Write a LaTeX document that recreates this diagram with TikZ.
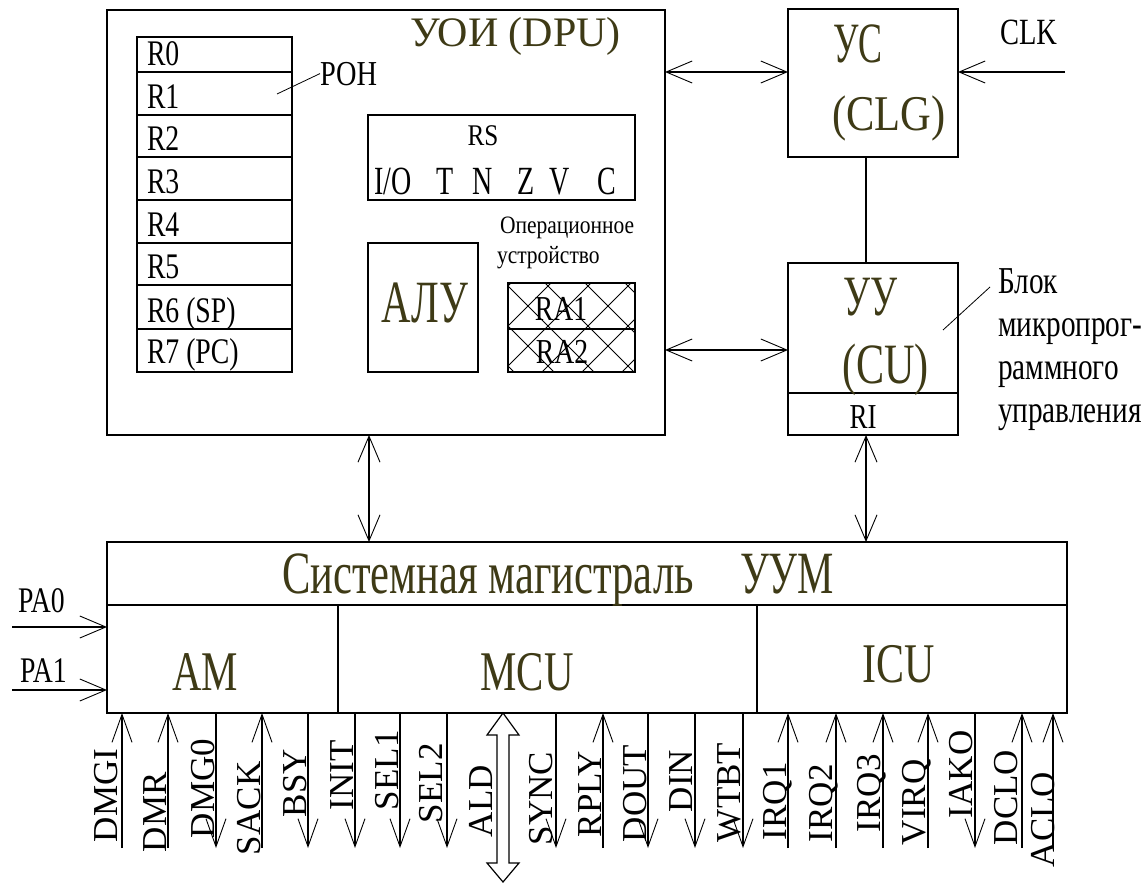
\documentclass[tikz,border=0pt]{standalone}
\usepackage{fontspec}
\setmainfont{Liberation Serif}
\usetikzlibrary{arrows.meta}
\definecolor{olv}{RGB}{62,58,22}
\newcommand{\fs}[3]{{\fontsize{#1}{#1}\selectfont\addfontfeature{FakeStretch=#2}#3}}
\begin{document}
\begin{tikzpicture}[x=1pt,y=-1pt,line width=1.4pt,
  every node/.style={inner sep=0pt,outer sep=0pt},
  box/.style={draw,line width=1.4pt,anchor=north west},
  lbl/.style={anchor=base west},
  clbl/.style={anchor=base},
  thinline/.style={line width=0.8pt},
  tipb/.tip={Straight Barb[length=26pt,width=22pt,line width=0.9pt]},
  arr/.style={-tipb},
  dbl/.style={tipb-tipb},
  sigu/.style={-{Straight Barb[length=28pt,width=20pt,line width=0.9pt]}},
  sigd/.style={{Straight Barb[length=28pt,width=20pt,line width=0.9pt]}-},
  vlab/.style={rotate=90,anchor=base west,font=\fontsize{35}{35}\selectfont}
]
\fill[white] (0,0) rectangle (1148,883);
\useasboundingbox (0,0) rectangle (1148,883);

% ---------------- DPU ----------------
\node[box,minimum width=558pt,minimum height=425pt] (dpu) at (107,10) {};
\node[lbl,text=olv] (dputitle) at (410,47) {\fs{42}{1.0}{УОИ (DPU)}};

% registers
\node[box,minimum width=155pt,minimum height=35pt] (r0) at (137,37) {};
\node[box,minimum width=155pt,minimum height=43pt] (r1) at (137,72) {};
\node[box,minimum width=155pt,minimum height=42pt] (r2) at (137,115) {};
\node[box,minimum width=155pt,minimum height=43pt] (r3) at (137,157) {};
\node[box,minimum width=155pt,minimum height=43pt] (r4) at (137,200) {};
\node[box,minimum width=155pt,minimum height=42pt] (r5) at (137,243) {};
\node[box,minimum width=155pt,minimum height=44pt] (r6) at (137,285) {};
\node[box,minimum width=155pt,minimum height=43pt] (r7) at (137,329) {};
\node[lbl] (t0) at (147,66) {\fs{36}{0.77}{R0}};
\node[lbl] (t1) at (147,108) {\fs{36}{0.77}{R1}};
\node[lbl] (t2) at (147,150) {\fs{36}{0.77}{R2}};
\node[lbl] (t3) at (147,193) {\fs{36}{0.77}{R3}};
\node[lbl] (t4) at (147,236) {\fs{36}{0.77}{R4}};
\node[lbl] (t5) at (147,278) {\fs{36}{0.77}{R5}};
\node[lbl] (t6) at (147,322) {\fs{36}{0.77}{R6 (SP)}};
\node[lbl] (t7) at (147,363) {\fs{36}{0.77}{R7 (PC)}};
\node[lbl] (ron) at (320,85) {\fs{35}{0.81}{РОН}};
\coordinate (ronp) at (277,94);
\draw[thinline] (ronp) -- (ron.west);

% RS
\node[box,minimum width=267pt,minimum height=85pt] (rs) at (368,115) {};
\node[clbl] (rst) at (483,145) {\fs{30}{0.84}{RS}};
\foreach \n/\cx/\t in {f1/393/{I/O},f2/445/T,f3/483/N,f4/526/Z,f5/560/V,f6/607/C}
  \node[clbl] (\n) at (\cx,194) {\fs{40}{0.7}{\t}};

% operational unit label
\node[lbl] (op1) at (500,233) {\fs{25}{0.86}{Операционное}};
\node[lbl] (op2) at (497,263) {\fs{25}{0.86}{устройство}};

% ALU
\node[box,minimum width=110pt,minimum height=129pt] (alu) at (368,243) {};
\node[clbl,text=olv] (alut) at (425,322) {\fs{60}{0.68}{АЛУ}};

% RA1 / RA2 hatched
\begin{scope}
  \clip (508,283) rectangle (635,372);
  \foreach \k in {-5,...,5} {
    \draw[thinline] (505+40*\k,283) -- (594+40*\k,372);
    \draw[thinline] (551+40*\k,283) -- (462+40*\k,372);
  }
\end{scope}
\node[box,minimum width=127pt,minimum height=46pt] (ra1) at (508,283) {};
\node[box,minimum width=127pt,minimum height=43pt] (ra2) at (508,329) {};
\node[clbl] (ra1t) at (561,320) {\fs{35}{0.79}{RA1}};
\node[clbl] (ra2t) at (562,363) {\fs{35}{0.79}{RA2}};

% ---------------- CLG ----------------
\node[box,minimum width=170pt,minimum height=148pt] (us) at (788,9) {};
\node[lbl,text=olv] (ust) at (833,63) {\fs{57}{0.63}{УС}};
\node[lbl,text=olv] (usc) at (832,130) {\fs{50}{0.85}{(CLG)}};
\node[lbl] (clkt) at (1000,45) {\fs{37}{0.77}{CLK}};

% ---------------- CU ----------------
\node[box,minimum width=170pt,minimum height=130pt] (uu) at (788,263) {};
\node[box,minimum width=170pt,minimum height=42pt] (ri) at (788,393) {};
\node[lbl,text=olv] (uut) at (843,315) {\fs{57}{0.67}{УУ}};
\node[lbl,text=olv] (uuc) at (842,383) {\fs{57}{0.74}{(CU)}};
\node[clbl] (rit) at (863,428) {\fs{35}{0.77}{RI}};
\node[lbl] (bl1) at (998,293) {\fs{38}{0.77}{Блок}};
\node[lbl] (bl2) at (998,336) {\fs{38}{0.77}{микропрог-}};
\node[lbl] (bl3) at (998,379) {\fs{38}{0.77}{раммного}};
\node[lbl] (bl4) at (998,422) {\fs{38}{0.77}{управления}};
\coordinate (blp) at (943,330);
\coordinate (blq) at (990,287);
\draw[thinline] (blp) -- (blq);

% ---------------- Bus ----------------
\node[box,minimum width=960pt,minimum height=63pt] (bus) at (107,542) {};
\node[box,minimum width=231pt,minimum height=108pt] (am) at (107,605) {};
\node[box,minimum width=419pt,minimum height=108pt] (mcu) at (338,605) {};
\node[box,minimum width=310pt,minimum height=108pt] (icu) at (757,605) {};
\node[lbl,text=olv] (bust) at (282,593) {\fs{60}{0.71}{Системная магистраль}};
\node[lbl,text=olv] (uum) at (740,593) {\fs{60}{0.68}{УУМ}};
\node[clbl,text=olv] (amt) at (205,690) {\fs{56}{0.73}{AM}};
\node[clbl,text=olv] (mcut) at (527,690) {\fs{56}{0.73}{MCU}};
\node[clbl,text=olv] (icut) at (899,682) {\fs{56}{0.75}{ICU}};
\node[lbl] (pa0) at (18,612) {\fs{36}{0.77}{PA0}};
\node[lbl] (pa1) at (20,682) {\fs{36}{0.77}{PA1}};

% ---------------- connectors ----------------
\coordinate (a1) at (665,72);
\draw[dbl] (a1) -- (a1 -| us.west);
\coordinate (a2) at (665,350);
\draw[dbl] (a2) -- (a2 -| uu.west);
\coordinate (clk) at (1065,72);
\draw[arr] (clk) -- (clk -| us.east);
\coordinate (c1) at (866,157);
\draw (c1) -- (c1 |- uu.north);
\coordinate (v1) at (369,435);
\draw[dbl] (v1) -- (v1 |- bus.north);
\coordinate (v2) at (866,435);
\draw[dbl] (v2) -- (v2 |- bus.north);
\coordinate (p0) at (12,627);
\draw[arr] (p0) -- (p0 -| am.west);
\coordinate (p1) at (12,690);
\draw[arr] (p1) -- (p1 -| am.west);

% ---------------- signals ----------------
\foreach \i/\x/\d/\lab/\lx/\ly in {
  1/122/u/DMGI/117/842, 2/168/u/DMR/166/852, 3/216/d/DMG0/214/838,
  4/262/u/SACK/260/855, 5/308/d/BSY/306/817, 6/355/d/INIT/353/810,
  7/400/d/SEL1/398/810, 8/447/d/SEL2/442/823, 10/556/d/SYNC/552/845,
  11/603/u/RPLY/601/837, 12/648/d/DOUT/646/842, 13/695/d/DIN/692/812,
  14/743/d/WTBT/740/842, 15/788/u/IRQ1/786/840, 16/836/u/IRQ2/832/842,
  17/883/u/IRQ3/880/832, 18/928/u/VIRQ/925/845, 19/975/d/IAKO/972/818,
  20/1022/u/DCLO/1017/845, 21/1053/u/ACLO/1054/867} {
  \coordinate (st\i) at (\x,713);
  \coordinate (sb\i) at (\x,848);
  \draw[sig\d,line width=1.2pt] (sb\i) -- (st\i);
  \node[vlab] (sl\i) at (\lx,\ly) {\lab};
}
% ALD hollow double arrow
\coordinate (aldt) at (503,713);
\draw[line width=1.2pt,fill=white] (aldt) -- (519,735) -- (509,735) -- (509,863) -- (519,863)
  -- (503,882) -- (487,863) -- (497,863) -- (497,735) -- (487,735) -- cycle;
\node[vlab] (sl9) at (492,837) {ALD};
\end{tikzpicture}
\end{document}
